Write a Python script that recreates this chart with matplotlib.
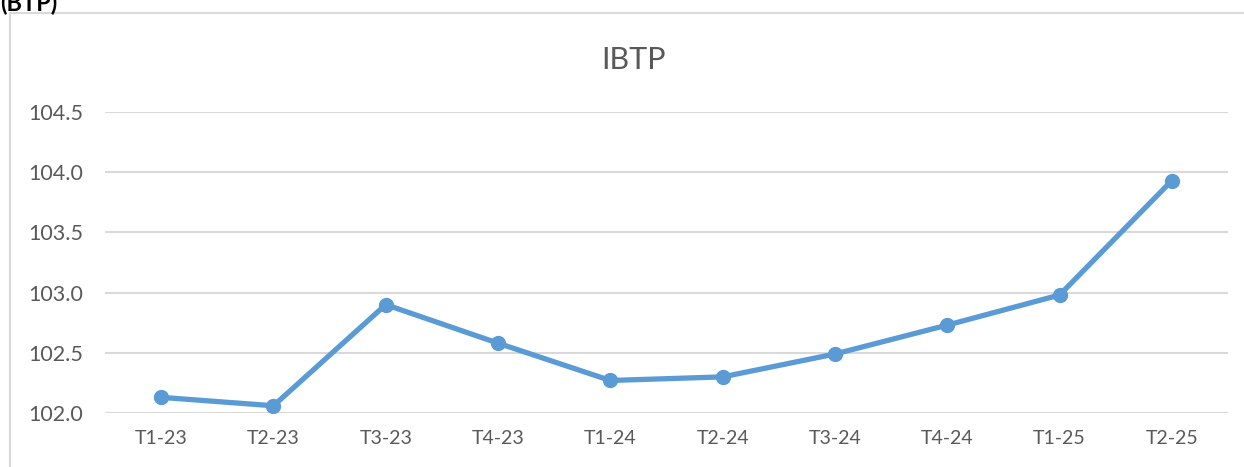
import matplotlib.pyplot as plt
from matplotlib.patches import Rectangle

quarters = ['T1-23', 'T2-23', 'T3-23', 'T4-23', 'T1-24', 'T2-24', 'T3-24', 'T4-24', 'T1-25', 'T2-25']
ibtp = [102.13, 102.06, 102.90, 102.58, 102.27, 102.30, 102.49, 102.73, 102.98, 103.93]
yticks = [102.0, 102.5, 103.0, 103.5, 104.0, 104.5]

plt.rcParams['font.family'] = ['Lato', 'DejaVu Sans']
text_col = '#595959'
grid_col = '#D9D9D9'
line_col = '#5B9BD5'

W, H = 1244, 467
fig = plt.figure(figsize=(W / 100, H / 100), dpi=100)

# chart frame, runs off the right and bottom edges
fig.patches.append(Rectangle((10 / W, -0.1), 1.2, 1 - 13 / H + 0.1, transform=fig.transFigure,
                             fill=False, edgecolor=grid_col, linewidth=1.5, clip_on=False))
# heading of the page above, only its lower part is in view
fig.text(0.0, 1 - 11 / H, '(BTP)', fontsize=17, fontweight='bold', color='black', va='baseline')

ax = fig.add_axes([105 / W, 1 - 413 / H, (1228 - 105) / W, (413 - 112) / H])
x = range(len(quarters))
ax.plot(x, ibtp, color=line_col, linewidth=3.8, marker='o', markersize=10, solid_capstyle='round', zorder=3)

ax.set_xlim(-0.5, len(quarters) - 0.5)
ax.set_ylim(102.0, 104.5)
ax.set_yticks(yticks)
ax.set_yticklabels([f'{v:.1f}' for v in yticks])
ax.set_xticks(list(x))
ax.set_xticklabels(quarters)
ax.grid(axis='y', color=grid_col, linewidth=1.5)
ax.set_axisbelow(True)
for s in ax.spines.values():
    s.set_visible(False)
ax.tick_params(length=0, colors=text_col, labelsize=14)
ax.tick_params(axis='y', pad=55, labelsize=15.5)
ax.tick_params(axis='x', pad=12)
for lab in ax.get_yticklabels():
    lab.set_horizontalalignment('left')

fig.text(634 / W, 1 - 60 / H, 'IBTP', fontsize=22, color=text_col, ha='center', va='center')

fig.savefig('out.png', dpi=100)
